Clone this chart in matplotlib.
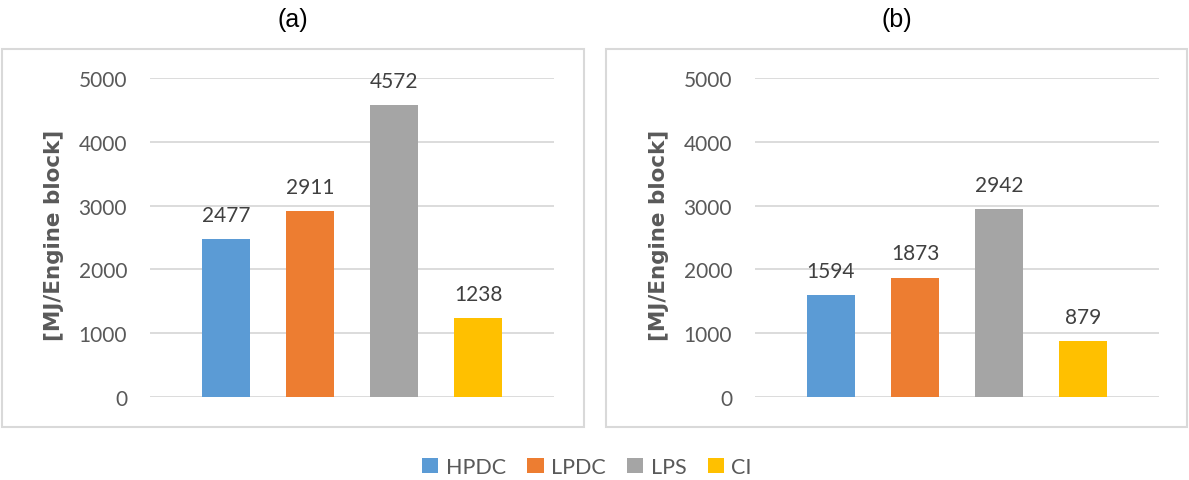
import matplotlib
matplotlib.use("Agg")
import matplotlib.pyplot as plt
from matplotlib.patches import Rectangle, Patch

categories = ["HPDC", "LPDC", "LPS", "CI"]
values_a = [2477, 2911, 4572, 1238]
values_b = [1594, 1873, 2942, 879]
panel_titles = ["(a)", "(b)"]
y_ticks = [0, 1000, 2000, 3000, 4000, 5000]
y_label = "[MJ/Engine block]"
colors = ["#5B9BD5", "#ED7D31", "#A5A5A5", "#FFC000"]

W, H = 1189, 481
fig = plt.figure(figsize=(W / 100, H / 100), dpi=100)
fig.patch.set_facecolor("white")

FONT = "Lato"
TICK_COLOR = "#595959"
LABEL_COLOR = "#404040"
GRID_COLOR = "#D9D9D9"


def fx(px):
    return px / W


def fy(py):
    return 1 - py / H


boxes = [(1.5, 584), (606, 1187)]
axes_left = [150, 755]
ax_w = 404
ax_top, ax_bot = 79, 398

for i, (vals, title) in enumerate(zip([values_a, values_b], panel_titles)):
    bx0, bx1 = boxes[i]
    fig.patches.append(Rectangle((fx(bx0), fy(428)), fx(bx1 - bx0), (428 - 50) / H,
                                 transform=fig.transFigure, facecolor="none",
                                 edgecolor=GRID_COLOR, linewidth=1.5, zorder=-1))
    fig.text(fx((bx0 + bx1) / 2), fy(20), title, ha="center", va="center",
             fontsize=18, family="Liberation Sans", color="black")

    ax = fig.add_axes([fx(axes_left[i]), fy(ax_bot), fx(ax_w), (ax_bot - ax_top) / H])
    ax.set_facecolor("none")
    x = list(range(len(categories)))
    ax.bar(x, vals, width=0.57, color=colors, zorder=3)
    for xi, v in zip(x, vals):
        ax.annotate(f"{v}", (xi, v), xytext=(0, 13), textcoords="offset points",
                    ha="center", va="baseline", fontsize=15, family=FONT,
                    color=LABEL_COLOR)
    ax.set_xlim(-0.905, 3.905)
    ax.set_ylim(0, 5000)
    ax.set_yticks(y_ticks)
    ax.set_yticklabels([str(t) for t in y_ticks], family=FONT, fontsize=15,
                       color=TICK_COLOR)
    ax.tick_params(axis="y", length=0, pad=16.5)
    ax.set_xticks([])
    for s in ax.spines.values():
        s.set_visible(False)
    ax.grid(axis="y", color=GRID_COLOR, linewidth=1.3, zorder=0)
    ax.set_axisbelow(True)
    ax.set_ylabel(y_label, fontsize=15.5, family="DejaVu Sans", fontweight="bold",
                  color=TICK_COLOR, va="center")
    ax.yaxis.set_label_coords(-96 / ax_w, (ax_bot - 235) / (ax_bot - ax_top))

handles = [Patch(facecolor=c, edgecolor="none") for c in colors]
leg = fig.legend(handles, categories, loc="center", ncol=4,
                 bbox_to_anchor=(fx(587), fy(468)), frameon=False,
                 prop={"family": FONT, "size": 15.5}, handlelength=0.75,
                 handleheight=0.72, handletextpad=0.34, columnspacing=1.0)
for t in leg.get_texts():
    t.set_color(TICK_COLOR)

fig.savefig("out.png", dpi=100, facecolor="white")
